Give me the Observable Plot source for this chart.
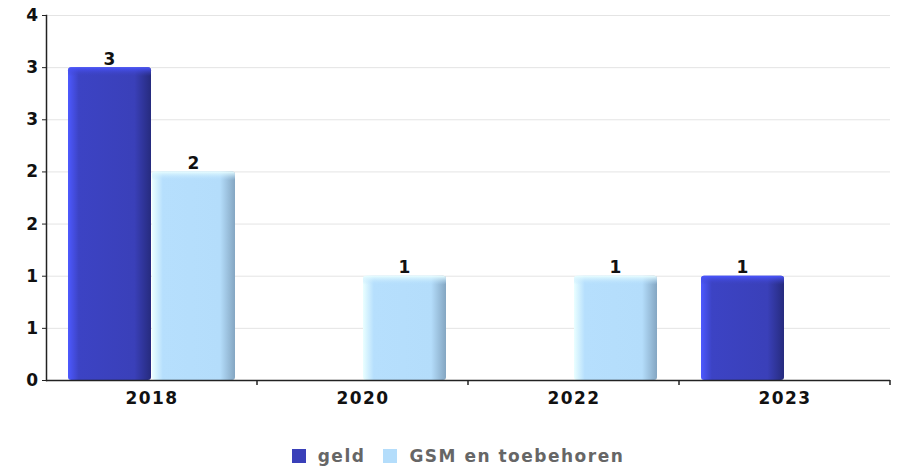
<!DOCTYPE html>
<html>
<head>
<meta charset="utf-8">
<script src="https://cdn.jsdelivr.net/npm/d3@7"></script>
<script src="https://cdn.jsdelivr.net/npm/@observablehq/plot@0.6"></script>
<style>
  body { margin: 0; background: #fff; }
  #chart svg text { letter-spacing: 1.4px; }
  .legend { display: flex; justify-content: center; align-items: center; height: 46px;
    margin-top: 13px; padding-left: 15px; font-family: "DejaVu Sans", sans-serif; font-weight: bold;
    font-size: 17px; letter-spacing: 1.5px; color: #666; }
  .legend .sw { width: 14px; height: 14px; display: inline-block; margin-right: 12px; }
  .legend .item { display: flex; align-items: center; }
  .legend .item + .item { margin-left: 18px; }
</style>
</head>
<body>
<div id="chart"></div>
<div class="legend" id="legend"></div>
<script>
const years = ["2018", "2020", "2022", "2023"];
const seriesNames = ["geld", "GSM en toebehoren"];
const geld = [3, 0, 0, 1];
const gsm = [2, 1, 1, 0];
const yTicks = [0, 0.5, 1, 1.5, 2, 2.5, 3, 3.5];
const yTickLabels = ["0", "1", "1", "2", "2", "3", "3", "4"];
const seriesColors = ["#3a40b9", "#b4ddfb"];

const data = years.flatMap((y, i) => [
  {year: y, series: seriesNames[0], value: geld[i]},
  {year: y, series: seriesNames[1], value: gsm[i]}
]);
const isGeld = d => d.series === seriesNames[0];
const isGsm = d => d.series === seriesNames[1];

const chart = Plot.plot({
  width: 901,
  height: 420,
  marginLeft: 44,
  marginRight: 10,
  marginTop: 15,
  marginBottom: 40,
  style: {fontFamily: "DejaVu Sans", fontSize: "17px", fontWeight: "bold", color: "#111"},
  fx: {domain: years, padding: 0, label: null},
  x: {domain: seriesNames, paddingInner: 0.012, paddingOuter: 0.26, axis: null},
  y: {domain: [0, 3.5], label: null},
  marks: [
    Plot.gridY(yTicks, {stroke: "#e4e4e4", strokeOpacity: 1}),
    Plot.barY(data, {filter: d => isGeld(d) && d.value > 0, fx: "year", x: "series", y: "value", fill: "url(#gGeld)", rx: 3}),
    Plot.barY(data, {filter: d => isGsm(d) && d.value > 0, fx: "year", x: "series", y: "value", fill: "url(#gGsm)", rx: 3}),
    Plot.barY(data, {filter: d => isGeld(d) && d.value > 0, fx: "year", x: "series", y1: "value", y2: "value", insetBottom: -9, fill: "url(#cGeld)", rx: 3}),
    Plot.barY(data, {filter: d => isGsm(d) && d.value > 0, fx: "year", x: "series", y1: "value", y2: "value", insetBottom: -9, fill: "url(#cGsm)", rx: 3}),
    Plot.text(data, {filter: d => d.value > 0, fx: "year", x: "series", y: "value", text: d => String(d.value), lineAnchor: "bottom", dy: -3, fill: "#111"}),
    Plot.ruleY([0], {stroke: "#222", strokeWidth: 1.5}),
    Plot.frame({anchor: "left", facetAnchor: "left", stroke: "#222", strokeWidth: 1.5}),
    Plot.axisY(yTicks, {tickFormat: d => yTickLabels[yTicks.indexOf(d)], tickSize: 4, tickPadding: 3, stroke: "#222", label: null}),
    Plot.axisFx({anchor: "bottom", tickSize: 0, tickPadding: 11, label: null})
  ]
});

// gradients
const defs = d3.select(chart).insert("defs", ":first-child");
function grad(id, vertical, stops) {
  const g = defs.append("linearGradient").attr("id", id)
    .attr("x1", 0).attr("y1", 0).attr("x2", vertical ? 0 : 1).attr("y2", vertical ? 1 : 0);
  stops.forEach(([o, c, a]) => g.append("stop").attr("offset", o).attr("stop-color", c).attr("stop-opacity", a ?? 1));
}
grad("gGeld", false, [[0, "#4d59ff"], [0.13, "#3c43c4"], [0.8, "#3a40b9"], [1, "#262b7e"]]);
grad("gGsm", false, [[0, "#eaffff"], [0.13, "#b6dffd"], [0.82, "#b4ddfb"], [1, "#84a6c2"]]);
grad("cGeld", true, [[0, "#4a55ff", 1], [1, "#3c43c4", 0]]);
grad("cGsm", true, [[0, "#eaffff", 1], [1, "#b6dffd", 0]]);

// category boundary ticks on the x axis
const fx = chart.scale("fx");
const y = chart.scale("y");
const y0 = y.apply(0);
d3.select(chart).append("g").attr("stroke", "#222").attr("stroke-width", 1.5)
  .selectAll("line").data(years).join("line")
  .attr("x1", d => fx.apply(d) + fx.bandwidth).attr("x2", d => fx.apply(d) + fx.bandwidth)
  .attr("y1", y0).attr("y2", y0 + 5);

document.getElementById("chart").append(chart);

const legend = document.getElementById("legend");
seriesNames.forEach((s, i) => {
  const item = document.createElement("span");
  item.className = "item";
  const sw = document.createElement("span");
  sw.className = "sw";
  sw.style.background = seriesColors[i];
  item.append(sw, document.createTextNode(s));
  legend.append(item);
});
</script>
</body>
</html>
